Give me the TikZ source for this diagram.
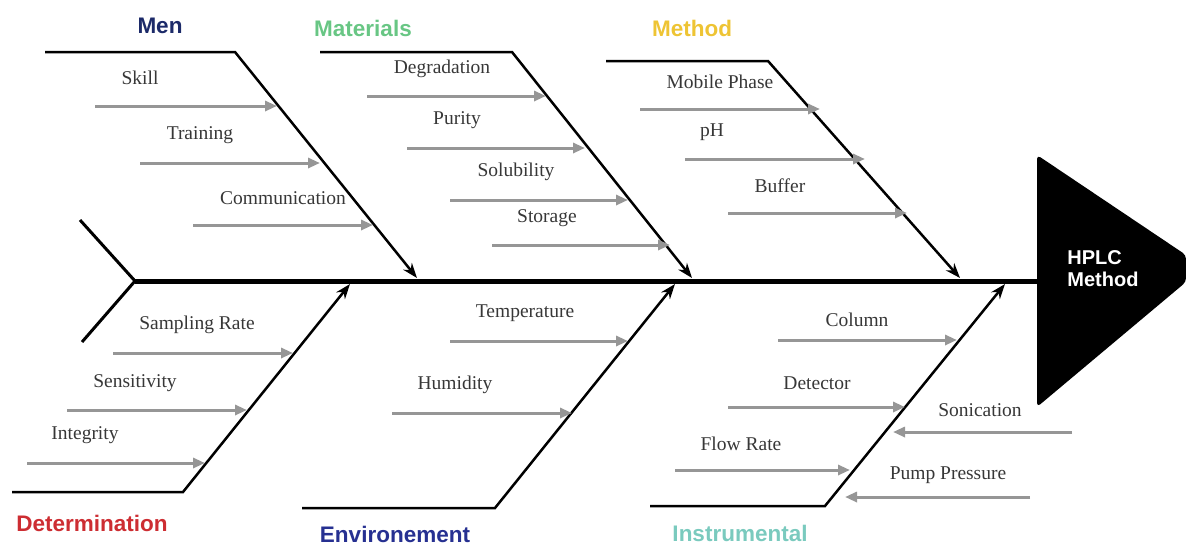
\documentclass[tikz,border=0pt]{standalone}
\usepackage{fontspec}
\setmainfont{Liberation Serif}
\setsansfont{Liberation Sans}
\usetikzlibrary{arrows.meta}
\definecolor{menblue}{RGB}{28,42,105}
\definecolor{matgreen}{RGB}{104,198,132}
\definecolor{metgold}{RGB}{238,196,52}
\definecolor{detred}{RGB}{205,45,50}
\definecolor{envblue}{RGB}{38,48,145}
\definecolor{insteal}{RGB}{122,202,190}
\definecolor{causegray}{RGB}{150,150,150}
\definecolor{subtext}{RGB}{55,55,55}
\tikzset{
  bone/.style={line width=2.5pt, -{Stealth[length=15pt,width=11pt]}},
  cause/.style={line width=3pt, draw=causegray, -{Triangle[length=12pt,width=10pt]}},
  cat/.style={font=\sffamily\bfseries\fontsize{22.5}{24}\selectfont, inner sep=1pt},
  sub/.style={font=\fontsize{19.5}{21}\selectfont, text=subtext},
}
\begin{document}
\begin{tikzpicture}[x=1pt,y=-1pt]
    \useasboundingbox (0,0) rectangle (1186,547);
    % head and spine
    \fill[rounded corners=4pt] (1037,155) -- (1186,255) -- (1186,282) -- (1037,407) -- cycle;
    \node[font=\sffamily\bfseries\fontsize{20}{22}\selectfont, text=white, align=left] (effect) at (1103,269) {HPLC\\Method};
    \coordinate (tail) at (135,281);
    \coordinate (head) at (1040,281);
    \coordinate (tail-up) at (80,220);
    \coordinate (tail-dn) at (82,342);
    \draw[line width=5pt] (tail) -- (head);
    \draw[line width=3pt] (tail-up) -- (tail) -- (tail-dn);
    % categories
    \foreach \n/\lbl/\col/\lx/\ly/\ax/\ay/\bx/\cx/\cy in
        {men/Men/menblue/160/26/45/52/235/417/278,
         mat/Materials/matgreen/363/28/320/52/512/692/278,
         met/Method/metgold/692/28/606/61/768/960/278,
         det/Determination/detred/92/523/12/492/183/350/284,
         env/Environement/envblue/395/534/302/508/495/675/284,
         ins/Instrumental/insteal/740/533/650/506/825/1005/284}
    {
        \node[cat, text=\col] (\n) at (\lx,\ly) {\lbl};
        \coordinate (\n-a) at (\ax,\ay);
        \coordinate (\n-b) at (\bx,\ay);
        \coordinate (\n-c) at (\cx,\cy);
        \draw[bone] (\n-a) -- (\n-b) -- (\n-c);
    }
    % causes
    \foreach \n/\lbl/\tx/\ty/\ax/\bx/\y in
        {skill/Skill/140/78/95/277/106,
         train/Training/200/135/140/320/163,
         comm/Communication/283/198/193/373/225,
         degr/Degradation/442/69/367/546/96,
         pur/Purity/457/120/407/585/148,
         sol/Solubility/516/172/450/628/200,
         stor/Storage/547/218/492/670/245,
         mob/Mobile Phase/720/82/640/820/109,
         ph/pH/712/132/685/865/159,
         buf/Buffer/780/186/728/907/213,
         samp/Sampling Rate/197/325/113/293/353,
         sens/Sensitivity/135/383/67/247/410,
         integ/Integrity/85/435/27/205/463,
         temp/Temperature/525/313/450/628/341,
         hum/Humidity/455/385/392/572/413,
         col/Column/857/320/778/957/340,
         det2/Detector/817/383/728/905/407,
         flow/Flow Rate/741/444/675/850/470,
         son/Sonication/980/410/1072/893/432,
         pump/Pump Pressure/948/475/1030/845/497}
    {
        \node[sub] (\n) at (\tx,\ty) {\lbl};
        \coordinate (\n-s) at (\ax,\y);
        \coordinate (\n-e) at (\bx,\y);
        \draw[cause] (\n-s) -- (\n-e);
    }
\end{tikzpicture}
\end{document}
